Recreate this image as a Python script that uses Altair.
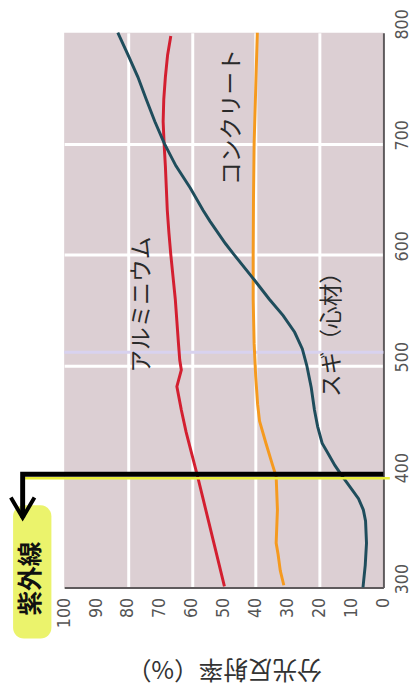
import altair as alt
import pandas as pd

# ---- data (wavelength nm, spectral reflectance %) ----
series_names = ["アルミニウム", "コンクリート", "スギ（心材）"]
series_colors = ["#d31f30", "#f59a1f", "#1f4d5c"]

wl_aluminium = [797, 780, 760, 740, 720, 700, 680, 660, 640, 620, 600, 580, 560, 540,
                520, 505, 496, 481, 460, 440, 420, 400, 380, 360, 340, 320, 301]
refl_aluminium = [66.6, 67.6, 68.3, 68.8, 69.0, 68.7, 68.3, 68.0, 67.7, 67.2, 66.6, 65.9, 65.2, 64.7,
                  64.2, 63.8, 63.3, 64.7, 63.3, 61.8, 60.0, 58.2, 56.5, 54.8, 53.1, 51.4, 49.8]

wl_concrete = [800, 750, 700, 650, 600, 560, 520, 490, 465, 450, 430, 410, 400, 370, 340, 330, 315, 302]
refl_concrete = [39.5, 40.0, 40.5, 40.7, 40.8, 40.8, 40.5, 40.0, 39.4, 38.8, 36.8, 34.7, 33.6, 33.2,
                 33.6, 33.0, 32.3, 31.2]

wl_sugi = [800, 780, 760, 740, 720, 700, 680, 660, 640, 630, 610, 600, 580, 560, 545, 530, 515, 500,
           480, 460, 445, 430, 420, 410, 400, 390, 380, 370, 360, 340, 320, 300]
refl_sugi = [83.2, 80.0, 76.9, 74.3, 71.6, 68.6, 65.0, 60.5, 56.5, 54.3, 49.5, 46.8, 41.2, 35.8, 31.4,
             27.8, 25.4, 24.0, 22.6, 21.6, 20.6, 19.2, 17.2, 15.2, 12.8, 10.3, 7.8, 6.3, 5.6, 5.3, 5.7, 6.4]

x_ticks = [0, 10, 20, 30, 40, 50, 60, 70, 80, 90, 100]
y_ticks = [300, 400, 500, 600, 700, 800]

label_text = ["アルミニウム", "コンクリート", "スギ（心材）"]
label_refl = [75.6, 47.5, 16.0]
label_wl = [555, 724, 533]

# UV marker (data coordinates, outside the plotted range on purpose)
uv_line_refl = [0, 113, 113]
uv_line_wl = [402, 402, 363]
uv_under_refl = [-2, 113]
uv_under_wl = [398.5, 398.5]
uv_head_refl = [116.7, 113, 109.3]
uv_head_wl = [381, 363, 381]
uv_box = dict(r=116, r2=104, w=374, w2=254)
uv_label = dict(r=110.5, w=308, text="紫外線")
stray_line_wl = 512

# ---- tables ----
rows = []
for name, wls, rs in [(series_names[0], wl_aluminium, refl_aluminium),
                      (series_names[1], wl_concrete, refl_concrete),
                      (series_names[2], wl_sugi, refl_sugi)]:
    for w, r in zip(wls, rs):
        rows.append({"series": name, "w": w, "r": r})
curves = pd.DataFrame(rows)
labels = pd.DataFrame({"text": label_text, "r": label_refl, "w": label_wl})
uv_line = pd.DataFrame({"r": uv_line_refl, "w": uv_line_wl, "o": [0, 1, 2]})
uv_under = pd.DataFrame({"r": uv_under_refl, "w": uv_under_wl, "o": [0, 1]})
uv_head = pd.DataFrame({"r": uv_head_refl, "w": uv_head_wl, "o": [0, 1, 2]})
uv_box_df = pd.DataFrame([uv_box])
uv_label_df = pd.DataFrame([uv_label])
stray_df = pd.DataFrame({"w": [stray_line_wl]})

tick_font = "Liberation Sans Narrow, DejaVu Sans Condensed, Liberation Sans, sans-serif"
jp_font = "Noto Sans CJK JP"

x_scale = alt.Scale(domain=[0, 100], reverse=True, nice=False, zero=False)
y_scale = alt.Scale(domain=[300, 800], nice=False, zero=False)

x_axis = alt.Axis(
    orient="bottom", values=x_ticks, title="分光反射率（%）",
    labelAngle=270, labelAlign="right", labelBaseline="middle", labelPadding=10,
    labelFlush=False, labelOverlap=False, labelFont=tick_font, labelFontSize=18, labelColor="#555555",
    ticks=False, domainColor="#5e5a5c", domainWidth=2,
    grid=True, gridColor="white", gridWidth=3,
    gridOpacity={"condition": {"test": "datum.value % 20 == 0 && datum.value > 0 && datum.value < 100", "value": 1}, "value": 0},
    titleAngle=180, titleBaseline="bottom", titleFont=jp_font, titleFontSize=25,
    titleFontWeight="normal", titleColor="#333333", titlePadding=28,
)
y_axis = alt.Axis(
    orient="right", values=y_ticks, title=None,
    labelAngle=270, labelAlign="center", labelBaseline="top", labelPadding=10, labelOffset=-9,
    labelFlush=False, labelOverlap=False, labelFont=tick_font, labelFontSize=18, labelColor="#555555",
    ticks=False, domainColor="#5e5a5c", domainWidth=2,
    grid=True, gridColor="white", gridWidth=3,
    gridOpacity={"condition": {"test": "datum.value > 300 && datum.value < 800", "value": 1}, "value": 0},
)

X = lambda: alt.X("r:Q", scale=x_scale, axis=x_axis)
Y = lambda: alt.Y("w:Q", scale=y_scale, axis=y_axis)

stray = alt.Chart(stray_df).mark_rule(color="#d8d2ef", strokeWidth=3).encode(y=Y())

lines = alt.Chart(curves).mark_line(strokeWidth=3).encode(
    x=X(), y=Y(),
    color=alt.Color("series:N", scale=alt.Scale(domain=series_names, range=series_colors), legend=None),
    order=alt.Order("w:Q"),
)

box = alt.Chart(uv_box_df).mark_rect(color="#ebf36c", cornerRadius=11).encode(
    x=X(), x2="r2:Q", y=Y(), y2="w2:Q")

under = alt.Chart(uv_under).mark_line(color="#e8ee3a", strokeWidth=2.5).encode(
    x=X(), y=Y(), order="o:Q")
arrow = alt.Chart(uv_line).mark_line(color="black", strokeWidth=5, strokeJoin="miter").encode(
    x=X(), y=Y(), order="o:Q")
head = alt.Chart(uv_head).mark_line(color="black", strokeWidth=4, strokeJoin="miter").encode(
    x=X(), y=Y(), order="o:Q")

texts = alt.Chart(labels).mark_text(angle=270, font=jp_font, fontSize=23, color="#2a2a2a",
                                    align="center", baseline="middle").encode(
    x=X(), y=Y(), text="text:N")

uv_text = alt.Chart(uv_label_df).mark_text(angle=270, font=jp_font, fontSize=25, fontWeight="bold",
                                           color="#111111", align="center", baseline="middle").encode(
    x=X(), y=Y(), text="text:N")

chart = alt.layer(stray, box, lines, under, arrow, head, texts, uv_text).properties(
    width=324, height=563,
    autosize=alt.AutoSizeParams(type="none"),
    padding={"left": 57, "top": 20, "right": 29, "bottom": 101},
    background="white",
).configure_view(fill="#dccfd3", strokeWidth=0)

chart.save("out.html", embed_options={"renderer": "svg", "actions": False})
